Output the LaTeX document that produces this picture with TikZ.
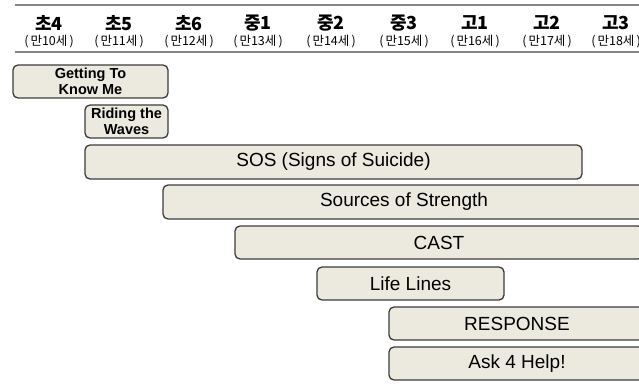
\documentclass[tikz,border=0pt]{standalone}
\usepackage{fontspec}
\setmainfont{Liberation Sans}
\newfontfamily\krfont{Noto Sans CJK KR}
\definecolor{boxfill}{HTML}{ECEADF}
\definecolor{boxline}{HTML}{3C3C3C}
\definecolor{rulegray}{HTML}{858585}
\begin{document}
\begin{tikzpicture}[x=1pt,y=-1pt,
  prog/.style={draw=boxline,fill=boxfill,line width=1.3pt,rounded corners=5pt,
    inner sep=0pt,font=\fontsize{19}{20}\selectfont},
  small/.style={prog,font=\fontsize{14.5}{16.5}\selectfont\bfseries,align=center},
  grade/.style={font=\krfont\fontsize{18}{18}\selectfont\bfseries,inner sep=0pt},
  age/.style={font=\krfont\fontsize{12.5}{13}\selectfont,inner sep=0pt},
  hrule/.style={draw=rulegray,line width=2.5pt}]
\useasboundingbox (0,0) rectangle (639,390);
\clip (0,0) rectangle (639,390);
\fill[white] (0,0) rectangle (639,390);
% header rules
\coordinate (t1) at (15,5);  \coordinate (t2) at (645,5);
\coordinate (b1) at (15,52); \coordinate (b2) at (645,52);
\draw[hrule] (t1) -- (t2);
\draw[hrule] (b1) -- (b2);
% header labels
\foreach \x/\g/\a [count=\i] in {49/초4/만10세,119/초5/만11세,189/초6/만12세,258/중1/만13세,
   331/중2/만14세,404/중3/만15세,475/고1/만16세,547/고2/만17세,616/고3/만18세}{
  \node[grade] (g\i) at (\x,23) {\g};
  \node[age] (a\i) at (\x,42) {(\,\a\,)};
}
% programs
\node[small,minimum width=155pt,minimum height=33pt] (gtkm) at (90.5,81.5) {Getting To\\Know Me};
\node[small,minimum width=83pt,minimum height=33pt] (rtw) at (126.5,121.5) {Riding the\\Waves};
\node[prog,minimum width=497pt,minimum height=34pt] (sos) at (333.5,162) {SOS (Signs of Suicide)};
\node[prog,minimum width=482pt,minimum height=34pt] (sss) at (404,202) {Sources of Strength};
\node[prog,minimum width=408pt,minimum height=33pt] (cast) at (439,242.5) {CAST};
\node[prog,minimum width=187pt,minimum height=33pt] (life) at (410.5,283.5) {Life Lines};
\node[prog,minimum width=256pt,minimum height=33pt] (resp) at (517,323.5) {RESPONSE};
\node[prog,minimum width=256pt,minimum height=33pt] (ask) at (517,363.5) {Ask 4 Help!};
\end{tikzpicture}
\end{document}
